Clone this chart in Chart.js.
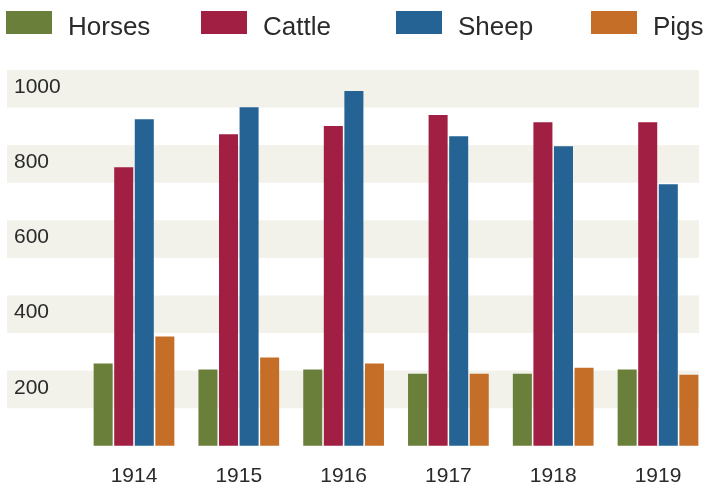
<!DOCTYPE html>
<html>
<head>
<meta charset="utf-8">
<script src="https://cdn.jsdelivr.net/npm/chart.js@4/dist/chart.umd.min.js"></script>
<style>
  html, body { margin: 0; padding: 0; background: #fff; overflow: hidden; }
  #wrap { position: relative; width: 704px; height: 497px; }
  #chart { position: absolute; left: 0; top: 0; }
  #legend { position: absolute; left: 6px; top: 0; height: 50px; width: 704px; }
  .item { position: absolute; top: 0; height: 50px; }
  .item .box { position: absolute; left: 0; top: 11px; width: 46px; height: 23px; }
  .item .lbl { position: absolute; left: 62px; top: 11px; line-height: 26px; white-space: nowrap;
    font: 26px "Liberation Sans", Arial, sans-serif; color: #2a2a2a; }
</style>
</head>
<body>
<div id="wrap">
  <canvas id="chart" width="704" height="497"></canvas>
  <div id="legend"></div>
</div>
<script>
var years = ["1914", "1915", "1916", "1917", "1918", "1919"];
var horses = [219, 203, 203, 192, 192, 203];
var cattle = [741, 829, 851, 880, 861, 861];
var sheep  = [869, 901, 944, 824, 797, 696];
var pigs   = [291, 235, 219, 192, 208, 189];
var yTicks = [200, 400, 600, 800, 1000];

var seriesNames = ["Horses", "Cattle", "Sheep", "Pigs"];
var seriesColors = ["#6a803a", "#a01f42", "#246394", "#c56e28"];
var seriesData = [horses, cattle, sheep, pigs];

var textColor = "#2a2a2a";
var fontFamily = '"Liberation Sans", Arial, sans-serif';

// shaded bands with the tick labels written inside them
var bandPlugin = {
  id: "bands",
  beforeDatasetsDraw: function(chart) {
    var ctx = chart.ctx;
    var y = chart.scales.y;
    var left = 7, right = chart.width - 5;
    ctx.save();
    yTicks.forEach(function(v) {
      var top = y.getPixelForValue(v);
      var bottom = y.getPixelForValue(v - 100);
      ctx.fillStyle = "#f2f2ea";
      ctx.fillRect(left, top, right - left, bottom - top);
      ctx.fillStyle = textColor;
      ctx.font = "21px " + fontFamily;
      ctx.textAlign = "left";
      ctx.textBaseline = "alphabetic";
      ctx.fillText(String(v), 14, y.getPixelForValue(v - 61));
    });
    ctx.restore();
  }
};

var datasets = seriesNames.map(function(name, i) {
  return {
    label: name,
    data: seriesData[i],
    backgroundColor: seriesColors[i],
    borderWidth: 0,
    categoryPercentage: 0.785,
    barPercentage: 0.925,
    clip: false
  };
});

var chart = new Chart(document.getElementById("chart"), {
  type: "bar",
  data: { labels: years, datasets: datasets },
  options: {
    responsive: false,
    animation: false,
    layout: { padding: { left: 134, right: 46, top: 70, bottom: -10 } },
    plugins: { legend: { display: false }, tooltip: { enabled: false } },
    scales: {
      x: {
        offset: false,
        grid: { display: false, drawTicks: false },
        border: { display: false },
        ticks: { color: textColor, font: { size: 21, family: fontFamily }, padding: 18, maxRotation: 0, autoSkip: false }
      },
      y: {
        display: false,
        min: 0,
        max: 1000
      }
    }
  },
  plugins: [bandPlugin]
});

// legend built from the chart's datasets
var legend = document.getElementById("legend");
chart.data.datasets.forEach(function(ds, i) {
  var item = document.createElement("div");
  item.className = "item";
  item.style.left = (i * 195) + "px";
  var box = document.createElement("div");
  box.className = "box";
  box.style.background = ds.backgroundColor;
  var lbl = document.createElement("span");
  lbl.className = "lbl";
  lbl.textContent = ds.label;
  item.appendChild(box);
  item.appendChild(lbl);
  legend.appendChild(item);
});
</script>
</body>
</html>
